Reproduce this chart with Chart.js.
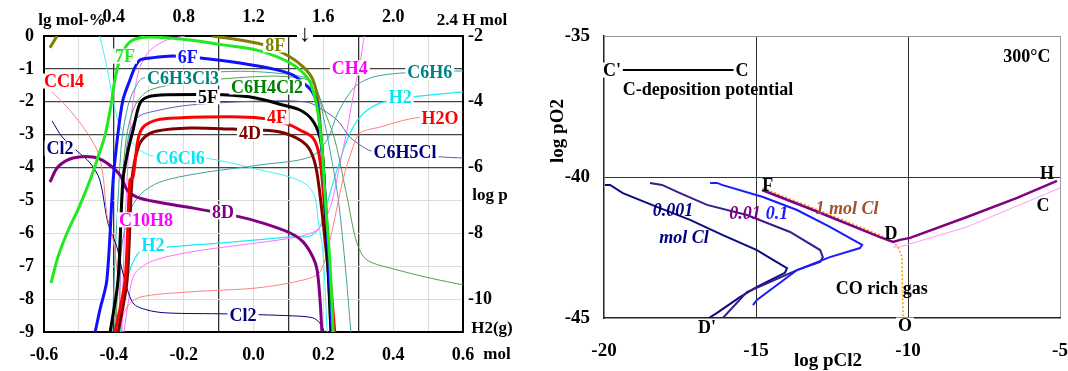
<!DOCTYPE html>
<html>
<head>
<meta charset="utf-8">
<script src="https://cdn.jsdelivr.net/npm/chart.js@4.4.1/dist/chart.umd.min.js"></script>
<style>
  body { margin: 0; background: #fff; width: 1068px; height: 371px; position: relative; overflow: hidden; }
  #left { position: absolute; left: 0; top: 0; }
  #right { position: absolute; left: 540px; top: 0; }
</style>
</head>
<body>
<canvas id="left" width="540" height="371"></canvas>
<canvas id="right" width="540" height="371"></canvas>
<script>
// ---- left panel: lg mol-% vs mol ----
const s7F = [[-0.580,-7.51],[-0.560,-6.72],[-0.534,-5.99],[-0.497,-5.14],[-0.468,-4.38],[-0.448,-3.77],[-0.425,-3.01],[-0.408,-2.10],[-0.397,-1.34],[-0.382,-0.67],[-0.362,-0.27],[-0.339,-0.09],[-0.296,-0.03],[-0.182,-0.12],[-0.087,-0.27],[0.010,-0.43],[0.105,-0.82],[0.153,-1.25],[0.170,-1.64],[0.185,-2.34],[0.196,-3.37],[0.205,-4.90],[0.219,-6.90],[0.228,-9.0]];
const s6F = [[-0.454,-9.03],[-0.440,-8.33],[-0.420,-7.42],[-0.402,-4.38],[-0.388,-2.95],[-0.374,-1.95],[-0.354,-1.34],[-0.339,-0.94],[-0.325,-0.73],[-0.296,-0.67],[-0.231,-0.61],[-0.153,-0.67],[-0.039,-0.82],[0.067,-1.03],[0.113,-1.19],[0.156,-1.55],[0.170,-1.73],[0.182,-2.04],[0.196,-3.47],[0.211,-5.90],[0.225,-9.0]];
const s5F = [[-0.411,-9.03],[-0.388,-7.42],[-0.374,-4.38],[-0.359,-3.47],[-0.345,-2.86],[-0.325,-2.04],[-0.302,-1.85],[-0.248,-1.79],[-0.087,-1.79],[0.010,-1.89],[0.084,-2.10],[0.133,-2.25],[0.168,-2.55],[0.190,-3.07],[0.199,-3.77],[0.211,-6.51],[0.222,-9.0]];
const s4F = [[-0.397,-9.03],[-0.368,-7.42],[-0.354,-4.38],[-0.345,-4.29],[-0.331,-3.16],[-0.316,-2.77],[-0.276,-2.55],[-0.219,-2.49],[-0.039,-2.46],[0.039,-2.52],[0.105,-2.71],[0.133,-2.86],[0.168,-3.07],[0.185,-3.47],[0.196,-4.29],[0.213,-6.51],[0.233,-9.03]];
const s4D = [[-0.388,-9.03],[-0.362,-7.42],[-0.348,-4.38],[-0.331,-3.41],[-0.311,-3.07],[-0.276,-2.89],[-0.182,-2.80],[-0.059,-2.83],[0.019,-2.86],[0.076,-2.92],[0.133,-3.16],[0.162,-3.47],[0.182,-4.17],[0.208,-6.51],[0.230,-9.03]];
const s8Fa = [[-0.583,-0.36],[-0.563,0.0]];
const s8Fb = [[-0.119,0.0],[-0.039,-0.12],[0.039,-0.30],[0.105,-0.64],[0.142,-0.94],[0.168,-1.28],[0.182,-1.79],[0.190,-2.55],[0.202,-4.38],[0.222,-9.0]];
const s8D = [[-0.583,-4.44],[-0.560,-3.98],[-0.517,-3.71],[-0.460,-3.68],[-0.420,-3.86],[-0.382,-4.23],[-0.362,-4.68],[-0.334,-4.90],[-0.276,-5.05],[-0.190,-5.20],[-0.039,-5.50],[0.027,-5.69],[0.105,-5.99],[0.142,-6.26],[0.170,-6.72],[0.182,-7.11],[0.190,-7.94],[0.196,-9.0]];
const sH2O = [[-0.391,-9.0],[-0.362,-8.24],[-0.325,-7.94],[-0.182,-7.78],[0.010,-7.66],[0.142,-7.42],[0.190,-7.18],[0.219,-6.20],[0.256,-4.38],[0.282,-3.47],[0.305,-2.95],[0.362,-2.77],[0.448,-2.52],[0.571,-2.34],[0.600,-2.31]];
const sCCl4 = [[-0.577,-1.70],[-0.534,-2.16],[-0.488,-2.77],[-0.448,-3.47],[-0.431,-4.23],[-0.420,-5.44],[-0.402,-6.20],[-0.388,-7.42],[-0.377,-9.0]];
const sCl2 = [[-0.577,-2.58],[-0.548,-3.07],[-0.505,-3.50],[-0.468,-3.86],[-0.440,-4.38],[-0.417,-5.69],[-0.391,-6.42],[-0.374,-7.21],[-0.345,-8.12],[-0.305,-8.33],[-0.248,-8.42],[-0.076,-8.45],[0.113,-8.51],[0.170,-8.57],[0.190,-8.73],[0.205,-9.03]];
const sC6Cl6 = [[-0.440,0.0],[-0.420,-0.94],[-0.402,-1.95],[-0.382,-2.77],[-0.354,-3.16],[-0.325,-3.47],[-0.288,-3.65],[-0.139,-3.71],[0.019,-4.07],[0.105,-4.29],[0.153,-4.53],[0.176,-4.90],[0.185,-5.59],[0.199,-6.60],[0.211,-9.0]];
const sC6H3Cl3 = [[-0.405,-9.0],[-0.397,-6.81],[-0.388,-4.99],[-0.377,-3.16],[-0.359,-2.10],[-0.339,-1.58],[-0.316,-1.28],[-0.096,-1.09],[0.019,-1.09],[0.153,-1.28],[0.182,-1.64],[0.199,-2.40],[0.219,-3.47],[0.242,-4.90],[0.262,-6.90],[0.279,-9.0]];
const sC6H4Cl2 = [[-0.394,-9.0],[-0.382,-5.59],[-0.365,-3.16],[-0.339,-2.10],[-0.296,-1.64],[-0.153,-1.37],[0.047,-1.22],[0.133,-1.28],[0.170,-1.43],[0.199,-2.16],[0.233,-3.16],[0.268,-4.90],[0.296,-6.29],[0.325,-6.81],[0.411,-7.11],[0.506,-7.36],[0.600,-7.57]];
const sC6H5Cl = [[-0.385,-9.0],[-0.377,-5.59],[-0.362,-3.31],[-0.334,-2.49],[-0.268,-2.25],[-0.182,-2.10],[0.010,-1.98],[0.153,-2.01],[0.199,-2.25],[0.239,-2.55],[0.276,-3.07],[0.305,-3.31],[0.339,-3.50],[0.543,-3.68],[0.600,-3.71]];
const sC6H6 = [[-0.399,-9.0],[-0.382,-6.81],[-0.359,-5.44],[-0.325,-4.83],[-0.268,-4.44],[-0.153,-4.17],[0.019,-3.92],[0.162,-3.68],[0.211,-3.16],[0.239,-2.40],[0.268,-1.85],[0.296,-1.49],[0.342,-1.25],[0.419,-1.13],[0.600,-1.06]];
const sC10H8 = [[-0.377,-9.0],[-0.371,-6.51],[-0.362,-4.38],[-0.354,-2.86],[-0.342,-1.79],[-0.325,-0.94],[-0.296,-0.43],[-0.248,-0.12],[-0.196,0.0]];
const sCH4 = [[-0.371,-9.0],[-0.359,-8.12],[-0.342,-7.27],[-0.296,-6.87],[-0.182,-6.57],[0.010,-6.29],[0.125,-6.11],[0.182,-5.90],[0.211,-5.44],[0.228,-4.90],[0.248,-3.86],[0.268,-2.86],[0.285,-1.85],[0.305,-0.82],[0.317,0.0]];
const sH2 = [[-0.382,-9.0],[-0.374,-8.03],[-0.359,-7.27],[-0.339,-6.75],[-0.319,-6.51],[-0.248,-6.42],[-0.087,-6.29],[0.105,-6.11],[0.162,-6.08],[0.190,-5.81],[0.211,-5.08],[0.239,-4.07],[0.268,-3.16],[0.305,-2.46],[0.362,-2.04],[0.457,-1.85],[0.600,-1.70]];

// ---- right panel: log pO2 vs log pCl2 ----
const rCC = [[-19.74,-36.21],[-15.53,-36.21]];
const r1mol = [[-14.80,-40.46],[-13.12,-41.17],[-10.92,-42.13],[-10.49,-42.30],[-10.26,-42.23],[-9.93,-42.16],[-8.06,-41.42],[-6.41,-40.74],[-5.10,-40.14]];
const rPink = [[-10.49,-42.48],[-10.26,-42.48],[-8.06,-41.77],[-5.0,-40.39]];
const rOrange = [[-14.77,-40.39],[-13.12,-41.10],[-10.92,-42.06],[-10.49,-42.30],[-10.33,-42.48],[-10.20,-42.84],[-10.16,-45.0]];
const r01 = [[-16.51,-40.21],[-16.28,-40.21],[-16.12,-40.28],[-14.77,-40.71],[-13.65,-41.17],[-12.57,-41.77],[-11.51,-42.41],[-11.58,-42.52],[-12.57,-42.84],[-13.65,-43.30],[-14.97,-44.36],[-15.10,-44.54]];
const r001 = [[-18.49,-40.21],[-18.09,-40.28],[-17.50,-40.57],[-16.61,-40.99],[-15.30,-41.35],[-13.88,-41.95],[-12.89,-42.59],[-12.80,-42.84],[-12.89,-43.01],[-13.65,-43.30],[-14.77,-43.83],[-15.30,-44.08],[-16.09,-45.0]];
const r0001 = [[-19.97,-40.28],[-19.80,-40.28],[-19.38,-40.57],[-18.26,-41.06],[-17.17,-41.52],[-16.09,-42.06],[-14.97,-42.59],[-14.44,-42.94],[-13.98,-43.23],[-14.05,-43.40],[-14.97,-43.90],[-15.53,-44.26],[-16.28,-44.82],[-16.55,-45.0]];

const F = '"Liberation Serif", "Times New Roman", serif';
const pts = a => a.map(p => ({ x: p[0], y: p[1] }));
const darkX = [-0.4, -0.1, 0.1, 0.3];

// text annotations; inData=true -> [x,y] in axis units, otherwise canvas pixels
const leftTexts = [
  { t: 'lg mol-%', at: [72, 20], c: '#000', s: 17 },
  { t: '2.4 H mol', at: [472, 20], c: '#000', s: 17 },
  { t: '\u2193', at: [305, 34], c: '#000', s: 24, bg: true },
  { t: 'log p', at: [490, 195], c: '#000', s: 17 },
  { t: 'H2(g)', at: [492, 328], c: '#000', s: 17 },
  { t: 'mol', at: [497, 354], c: '#000', s: 17 },
  { t: '7F', at: [-0.368, -0.61], c: '#22e822', inData: true, bg: true },
  { t: '6F', at: [-0.188, -0.64], c: '#1010ff', inData: true, bg: true },
  { t: '8F', at: [0.062, -0.27], c: '#808000', inData: true, bg: true },
  { t: 'C6H3Cl3', at: [-0.202, -1.28], c: '#008080', inData: true, bg: true },
  { t: 'C6H4Cl2', at: [0.039, -1.55], c: '#008000', inData: true, bg: true },
  { t: '5F', at: [-0.130, -1.85], c: '#000', inData: true, bg: true },
  { t: 'CCl4', at: [-0.543, -1.37], c: '#ff0000', inData: true, bg: true },
  { t: 'CH4', at: [0.276, -0.97], c: '#ff00ff', inData: true, bg: true },
  { t: 'C6H6', at: [0.505, -1.12], c: '#008080', inData: true, bg: true },
  { t: 'H2', at: [0.420, -1.85], c: '#00e8f8', inData: true, bg: true },
  { t: 'H2O', at: [0.534, -2.49], c: '#ff0000', inData: true, bg: true },
  { t: '4F', at: [0.067, -2.46], c: '#ff0000', inData: true, bg: true },
  { t: '4D', at: [-0.010, -2.95], c: '#800000', inData: true, bg: true },
  { t: 'Cl2', at: [-0.554, -3.41], c: '#000080', inData: true, bg: true },
  { t: 'C6Cl6', at: [-0.210, -3.71], c: '#00e8f8', inData: true, bg: true },
  { t: 'C6H5Cl', at: [0.434, -3.53], c: '#000080', inData: true, bg: true },
  { t: 'C10H8', at: [-0.308, -5.59], c: '#ff00ff', inData: true, bg: true },
  { t: '8D', at: [-0.087, -5.35], c: '#800080', inData: true, bg: true },
  { t: 'H2', at: [-0.288, -6.35], c: '#00e8f8', inData: true, bg: true },
  { t: 'Cl2', at: [-0.030, -8.48], c: '#000080', inData: true, bg: true }
];

const rightTexts = [
  { t: 'log pO2', at: [17, 131], c: '#000', s: 19, rot: true },
  { t: 'log pCl2', at: [288, 360], c: '#000', s: 19 },
  { t: "C'", at: [-19.74, -36.21], c: '#000', inData: true, bg: true },
  { t: 'C', at: [-15.46, -36.21], c: '#000', inData: true, bg: true },
  { t: 'C-deposition potential', at: [-16.58, -36.88], c: '#000', inData: true },
  { t: '300\u00b0C', at: [-6.09, -35.71], c: '#000', inData: true },
  { t: 'F', at: [-14.61, -40.28], c: '#000', inData: true },
  { t: 'H', at: [-5.43, -39.86], c: '#000', inData: true },
  { t: 'C', at: [-5.56, -40.99], c: '#000', inData: true },
  { t: 'D', at: [-10.56, -41.99], c: '#000', inData: true },
  { t: '1 mol Cl', at: [-12.01, -41.10], c: '#a0522d', inData: true, it: true },
  { t: '0.1', at: [-14.31, -41.28], c: '#1a1aff', inData: true, it: true },
  { t: '0.01', at: [-15.36, -41.28], c: '#800080', inData: true, it: true },
  { t: '0.001', at: [-17.73, -41.17], c: '#000080', inData: true, it: true },
  { t: 'mol Cl', at: [-17.37, -42.13], c: '#000080', inData: true, it: true },
  { t: 'CO rich gas', at: [-10.86, -43.94], c: '#000', inData: true },
  { t: "D'", at: [-16.61, -45.32], c: '#000', inData: true, bg: true },
  { t: 'O', at: [-10.10, -45.25], c: '#000', inData: true, bg: true }
];

function textLayer(items) {
  return {
    id: 'textLayer',
    afterDraw(chart) {
      const ctx = chart.ctx;
      const sx = chart.scales.x, sy = chart.scales.y;
      items.forEach(it => {
        const px = it.inData ? sx.getPixelForValue(it.at[0]) : it.at[0];
        const py = it.inData ? sy.getPixelForValue(it.at[1]) : it.at[1];
        const size = it.s || 18;
        ctx.save();
        ctx.font = (it.it ? 'italic ' : '') + 'bold ' + size + 'px ' + F;
        ctx.textAlign = 'center';
        ctx.textBaseline = 'middle';
        ctx.translate(px, py);
        if (it.rot) ctx.rotate(-Math.PI / 2);
        if (it.bg) {
          const w = ctx.measureText(it.t).width;
          ctx.fillStyle = '#fff';
          ctx.fillRect(-w / 2 - 2, -size * 0.42, w + 4, size * 0.84);
        }
        ctx.fillStyle = it.c;
        ctx.fillText(it.t, 0, 1);
        ctx.restore();
      });
    }
  };
}

const leftSeries = [
  { d: s7F, c: '#22e822', w: 3 },
  { d: s6F, c: '#1010ff', w: 3 },
  { d: s5F, c: '#000000', w: 3 },
  { d: s4F, c: '#ff0000', w: 3 },
  { d: s4D, c: '#800000', w: 3 },
  { d: s8Fa, c: '#808000', w: 3 },
  { d: s8Fb, c: '#808000', w: 3 },
  { d: s8D, c: '#800080', w: 3 },
  { d: sH2O, c: '#ff8080', w: 1 },
  { d: sCCl4, c: '#ff8080', w: 1 },
  { d: sCl2, c: '#000080', w: 1 },
  { d: sC6Cl6, c: '#40f0f8', w: 1 },
  { d: sC6H3Cl3, c: '#40a0a0', w: 1 },
  { d: sC6H4Cl2, c: '#50a050', w: 1 },
  { d: sC6H5Cl, c: '#6060b0', w: 1 },
  { d: sC6H6, c: '#40a0a0', w: 1 },
  { d: sC10H8, c: '#ff70ff', w: 1 },
  { d: sCH4, c: '#ff70ff', w: 1 },
  { d: sH2, c: '#20e8f8', w: 1.2 }
];

const tickFont = { family: F, size: 18, weight: 'bold' };
const noSidePad = s => { s.paddingLeft = 0; s.paddingRight = 0; };

new Chart(document.getElementById('left'), {
  type: 'line',
  data: {
    datasets: leftSeries.map(s => ({
      data: pts(s.d), borderColor: s.c, borderWidth: s.w,
      pointRadius: 0, tension: 0.3, fill: false
    }))
  },
  options: {
    responsive: false, animation: false, events: [],
    plugins: { legend: { display: false }, tooltip: { enabled: false } },
    layout: { padding: 0 },
    scales: {
      x: {
        type: 'linear', position: 'bottom', min: -0.6, max: 0.6,
        afterFit: s => { s.height = 39; noSidePad(s); },
        ticks: {
          stepSize: 0.1, autoSkip: false, maxRotation: 0, padding: 13, color: '#000', font: tickFont,
          callback: v => Math.round(v * 10) % 2 === 0 ? (Math.abs(v) < 1e-9 ? '0.0' : v.toFixed(1)) : ''
        },
        grid: {
          drawTicks: false,
          color: c => darkX.some(d => Math.abs(d - c.tick.value) < 1e-6) ? '#333' : '#dcdcdc',
          lineWidth: c => darkX.some(d => Math.abs(d - c.tick.value) < 1e-6) ? 1.3 : 1
        },
        border: { color: '#000', width: 2 }
      },
      x2: {
        type: 'linear', position: 'top', min: 0, max: 2.4,
        afterFit: s => { s.height = 36; noSidePad(s); },
        ticks: {
          stepSize: 0.4, autoSkip: false, maxRotation: 0, padding: 8, color: '#000', font: tickFont,
          callback: v => (v === 0 || v > 2.3) ? '' : v.toFixed(1)
        },
        grid: { drawOnChartArea: false, drawTicks: false },
        border: { color: '#000', width: 2 }
      },
      y: {
        type: 'linear', position: 'left', min: -9, max: 0,
        afterFit: s => { s.width = 44; },
        ticks: { stepSize: 1, padding: 10, color: '#000', font: tickFont },
        grid: {
          drawTicks: false,
          color: c => c.tick.value >= -4 ? '#444' : '#dcdcdc',
          lineWidth: c => c.tick.value >= -4 ? 1.3 : 1
        },
        border: { color: '#000', width: 2 }
      },
      y2: {
        type: 'linear', position: 'right', min: -11, max: -2,
        afterFit: s => { s.width = 77; },
        ticks: {
          stepSize: 1, autoSkip: false, padding: 5, color: '#000', font: tickFont,
          callback: v => v % 2 === 0 ? v : ''
        },
        grid: { drawOnChartArea: false, drawTicks: false },
        border: { color: '#000', width: 2 }
      }
    }
  },
  plugins: [textLayer(leftTexts)]
});

const rightSeries = [
  { d: r1mol, c: '#800080', w: 2.5 },
  { d: rCC, c: '#000000', w: 2 },
  { d: rOrange, c: '#ff9900', w: 1.5, dash: [2, 2] },
  { d: rPink, c: '#ff99ff', w: 1 },
  { d: r01, c: '#1a1aff', w: 2 },
  { d: r001, c: '#3a1a8c', w: 2 },
  { d: r0001, c: '#0a0a80', w: 2 }
];

const rFont = { family: F, size: 19, weight: 'bold' };

new Chart(document.getElementById('right'), {
  type: 'line',
  data: {
    datasets: rightSeries.map(s => ({
      data: pts(s.d), borderColor: s.c, borderWidth: s.w, borderDash: s.dash || [],
      pointRadius: 0, tension: 0, fill: false
    }))
  },
  options: {
    responsive: false, animation: false, events: [],
    plugins: { legend: { display: false }, tooltip: { enabled: false } },
    layout: { padding: { top: 36, right: 20 } },
    scales: {
      x: {
        type: 'linear', position: 'bottom', min: -20, max: -5,
        afterFit: s => { s.height = 53; noSidePad(s); },
        ticks: { stepSize: 5, maxRotation: 0, padding: 22, color: '#000', font: rFont },
        grid: {
          drawTicks: false,
          color: c => (c.tick.value === -15 || c.tick.value === -10) ? '#333' : (c.tick.value === -5 ? '#999' : 'rgba(0,0,0,0)')
        },
        border: { color: '#222', width: 1.5 }
      },
      y: {
        type: 'linear', position: 'left', min: -45, max: -35,
        afterFit: s => { s.width = 64; },
        ticks: { stepSize: 5, padding: 14, color: '#000', font: rFont },
        grid: {
          drawTicks: false,
          color: c => c.tick.value === -40 ? '#333' : (c.tick.value === -35 ? '#999' : 'rgba(0,0,0,0)')
        },
        border: { color: '#222', width: 1.5 }
      }
    }
  },
  plugins: [textLayer(rightTexts)]
});
</script>
</body>
</html>
